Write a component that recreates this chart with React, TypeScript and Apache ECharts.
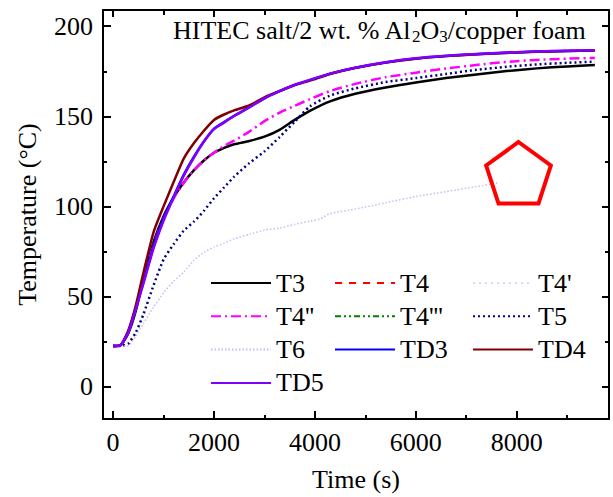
import React, { useEffect, useRef } from "react";
import * as echarts from "echarts";

const FONT = '"Liberation Serif", "Times New Roman", serif';

// shared sampling times (s)
const times = [0, 150, 300, 450, 600, 800, 1000, 1200, 1400, 1600, 1800, 2000, 2200, 2400, 2700, 3000, 3300, 3600, 3900, 4300, 4800, 5400, 6000, 6600, 7200, 7800, 8400, 9000, 9550];

const t3 = [22.5, 23, 29.5, 42, 59.7, 80, 94.5, 105, 113.3, 120, 125.5, 129.8, 132.5, 134.5, 136.3, 138.7, 142.5, 148, 153, 158.3, 162.5, 166, 168.8, 171.2, 173.2, 175.1, 176.6, 177.7, 178.5];
const t4: number[] = [];
const t4p: number[] = [];
const t4pp = [22.5, 23, 30, 43.5, 59.5, 78.5, 93.5, 104.5, 113, 120, 125.5, 129.8, 133.5, 136.5, 141.5, 147.3, 152, 155.8, 159.5, 164, 168, 171.7, 174.2, 176.5, 178.5, 180.2, 181.3, 182, 182.4];
const t4ppp: number[] = [];
const t5 = [22.5, 22.6, 23.8, 30, 40, 56, 70.5, 79, 86.5, 91.5, 97.5, 104.5, 110.5, 116.5, 124, 130.5, 138.5, 147, 155.5, 161.5, 165.5, 169, 171.2, 173.5, 175.8, 177.5, 178.8, 179.7, 180.3];
const td3 = [22.5, 23, 30.5, 43.5, 58, 77.5, 93, 105.5, 117.5, 127.5, 136, 143, 146.8, 150.3, 155, 160, 164, 167.4, 170.1, 173.6, 176.9, 179.9, 182.1, 183.5, 184.5, 185.3, 185.9, 186.3, 186.6];
const td4 = [22.5, 23, 31, 45, 63, 85.5, 100, 113.5, 126.5, 135, 142, 148, 151, 153.3, 156, 160.5, 164, 167.3, 169.8, 173.5, 176.8, 179.8, 182, 183.4, 184.4, 185.2, 185.8, 186.2, 186.5];
const td5 = [22.5, 23, 30, 43, 57, 76.5, 92, 105, 117, 127, 136, 143, 146.5, 150.2, 155, 160, 164, 167.5, 170.2, 173.7, 177, 180, 182.2, 183.6, 184.6, 185.4, 186, 186.4, 186.7];

// T6 has its own (shorter) record
const t6Times = [0, 300, 450, 600, 800, 1000, 1200, 1400, 1600, 1800, 2000, 2200, 2400, 2700, 3000, 3300, 3600, 3900, 4100, 4300, 4800, 5400, 6000, 6600, 7200, 7660];
const t6 = [22.5, 22.7, 28, 35, 44, 52, 58.5, 63.5, 70, 74.5, 77.5, 79.5, 82, 84.5, 86.8, 88, 90, 91.8, 93, 96, 98.5, 102, 105.5, 108.2, 111, 113.2];

const xMajor = [0, 2000, 4000, 6000, 8000];
const xMinor = [1000, 3000, 5000, 7000, 9000];
const yMajor = [0, 50, 100, 150, 200];
const yMinor = [25, 75, 125, 175];

const pair = (xs: number[], ys: number[]) => ys.map((v, i) => [xs[i], v]);

export default function App() {
  const ref = useRef<HTMLDivElement>(null);
  useEffect(() => {
    const chart = echarts.init(ref.current!, null, { renderer: "svg" });
    const txt = { fontFamily: FONT, fontSize: 26, color: "#000", fontWeight: "normal" };
    const line = (name: string, data: number[][], color: string, type: any, width: number) => ({
      name,
      type: "line",
      data,
      symbol: "none",
      showSymbol: false,
      smooth: 0.2,
      lineStyle: { color, type, width },
      itemStyle: { color },
    });
    const axisCommon = {
      type: "value",
      splitLine: { show: false },
    };
    const xRange = { min: -200, max: 9830 };
    const yRange = { min: -18, max: 209 };
    const lineStyleAx = { color: "#000", width: 2 };
    const legendBase = {
      orient: "vertical",
      top: 270,
      padding: 0,
      itemWidth: 60,
      itemHeight: 14,
      itemGap: 7.3,
      itemStyle: { opacity: 0 },
      textStyle: { ...txt, lineHeight: 26 },
      selectedMode: false,
    };
    const cx = 518.5, cy = 176, r = 34;
    const pts = [0, 1, 2, 3, 4].map((k) => {
      const a = (-90 + 72 * k) * Math.PI / 180;
      return [cx + r * Math.cos(a), cy + r * Math.sin(a)];
    });
    chart.setOption({
      animation: false,
      backgroundColor: "#fff",
      title: {
        left: 173,
        top: 15,
        padding: 0,
        text: "{a|HITEC salt/2 wt. % Al}{s|2}{a|O}{s|3}{a|/copper foam}",
        textStyle: {
          fontWeight: "normal",
          rich: {
            a: { ...txt, lineHeight: 30 },
            s: { fontFamily: FONT, fontSize: 17, fontWeight: "normal", color: "#000", lineHeight: 14, verticalAlign: "bottom" },
          },
        },
      },
      grid: { left: 103, right: 4, top: 10, bottom: 76 },
      xAxis: [
        {
          ...axisCommon, ...xRange, position: "bottom",
          axisLine: { show: true, onZero: false, lineStyle: lineStyleAx },
          axisTick: { show: true, inside: true, length: 8, lineStyle: lineStyleAx, customValues: xMajor },
          axisLabel: { ...txt, margin: 10, customValues: xMajor, formatter: (v: number) => String(v) },
          name: "Time (s)", nameLocation: "middle", nameGap: 47, nameTextStyle: txt,
        },
        {
          ...axisCommon, ...xRange, position: "bottom",
          axisLine: { show: false, onZero: false },
          axisTick: { show: true, inside: true, length: 4, lineStyle: lineStyleAx, customValues: xMinor },
          axisLabel: { show: false },
        },
        {
          ...axisCommon, ...xRange, position: "top",
          axisLine: { show: true, onZero: false, lineStyle: lineStyleAx },
          axisTick: { show: true, inside: true, length: 7, lineStyle: lineStyleAx, customValues: xMajor },
          axisLabel: { show: false },
        },
        {
          ...axisCommon, ...xRange, position: "top",
          axisLine: { show: false, onZero: false },
          axisTick: { show: true, inside: true, length: 5, lineStyle: lineStyleAx, customValues: xMinor },
          axisLabel: { show: false },
        },
      ],
      yAxis: [
        {
          ...axisCommon, ...yRange, position: "left",
          axisLine: { show: true, onZero: false, lineStyle: lineStyleAx },
          axisTick: { show: true, inside: true, length: 8, lineStyle: lineStyleAx, customValues: yMajor },
          axisLabel: { ...txt, margin: 10, customValues: yMajor, formatter: (v: number) => String(v) },
          name: "Temperature (°C)", nameLocation: "middle", nameGap: 63, nameTextStyle: txt,
        },
        {
          ...axisCommon, ...yRange, position: "left",
          axisLine: { show: false, onZero: false },
          axisTick: { show: true, inside: true, length: 4, lineStyle: lineStyleAx, customValues: yMinor },
          axisLabel: { show: false },
        },
        {
          ...axisCommon, ...yRange, position: "right",
          axisLine: { show: true, onZero: false, lineStyle: lineStyleAx },
          axisTick: { show: true, inside: true, length: 7, lineStyle: lineStyleAx, customValues: yMajor },
          axisLabel: { show: false },
        },
        {
          ...axisCommon, ...yRange, position: "right",
          axisLine: { show: false, onZero: false },
          axisTick: { show: true, inside: true, length: 4, lineStyle: lineStyleAx, customValues: yMinor },
          axisLabel: { show: false },
        },
      ],
      legend: [
        { ...legendBase, left: 210, data: ["T3", "T4''", "T6", "TD5"] },
        { ...legendBase, left: 334, data: ["T4", "T4'''", "TD3"] },
        { ...legendBase, left: 472, data: ["T4'", "T5", "TD4"] },
      ],
      graphic: [
        {
          type: "polygon",
          shape: { points: pts },
          style: { fill: "none", stroke: "#ff0000", lineWidth: 4 },
          z: 100,
        },
      ],
      series: [
        line("T3", pair(times, t3), "#000000", "solid", 2.5),
        line("T4", pair(times, t4), "#ff0000", [7, 7], 2),
        line("T4'", pair(times, t4p), "#d8d8ff", [2, 4], 1.5),
        line("T4''", pair(times, t4pp), "#ff00ff", [10, 4, 2, 4], 2.5),
        line("T4'''", pair(times, t4ppp), "#008000", [6, 3, 2, 3, 2, 3], 2),
        line("T5", pair(times, t5), "#000080", [2, 3], 2.5),
        line("T6", pair(t6Times, t6), "#cdb8f7", [1.5, 2], 1.5),
        line("TD3", pair(times, td3), "#0000ff", "solid", 2.5),
        line("TD4", pair(times, td4), "#800000", "solid", 2.5),
        line("TD5", pair(times, td5), "#8000ff", "solid", 2.5),
      ],
    });
    return () => chart.dispose();
  }, []);
  return <div ref={ref} style={{ position: "fixed", left: 0, top: 0, width: 613, height: 497 }} />;
}
